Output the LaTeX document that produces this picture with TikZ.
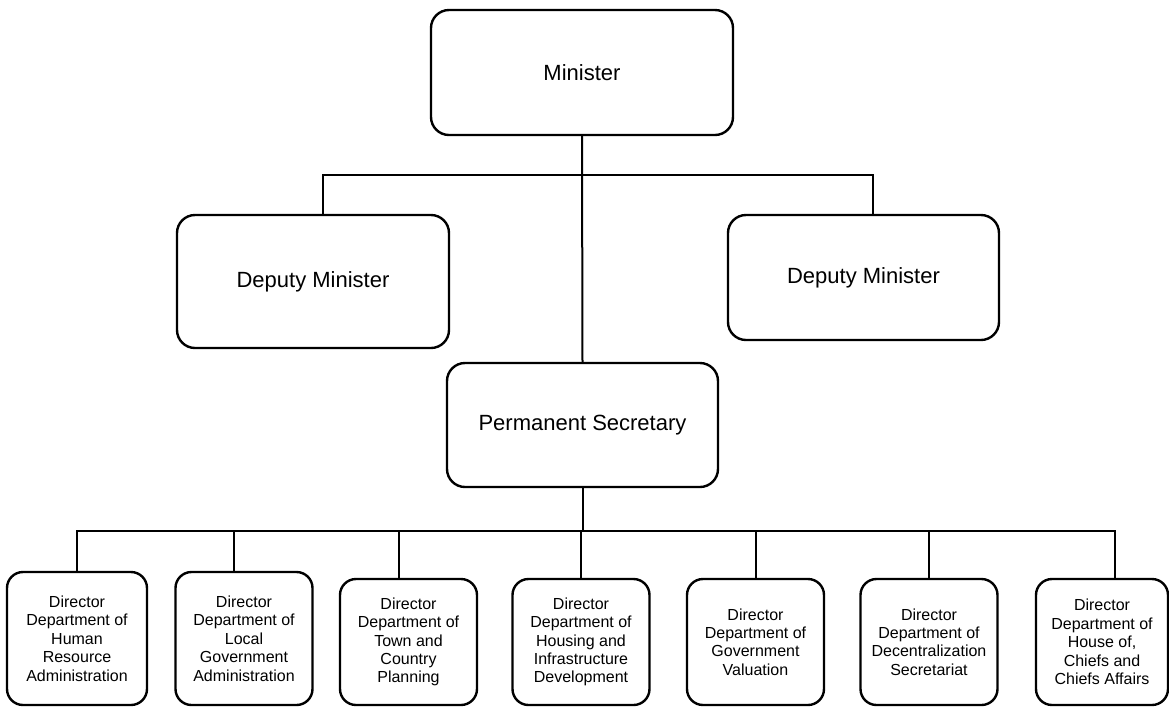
\documentclass[tikz,border=0pt]{standalone}
\usepackage{fontspec}
\setmainfont{Liberation Sans}
\begin{document}
\begin{tikzpicture}[x=0.5pt,y=-0.5pt,
	office/.style={draw,line width=1.2pt,rounded corners=9pt,align=center,font=\fontsize{11}{13}\selectfont},
	dept/.style={draw,line width=1.2pt,rounded corners=8pt,align=center,inner sep=1pt,minimum width=68.5pt,minimum height=63pt,font=\fontsize{8}{9.2}\selectfont},
	link/.style={line width=1pt}]
	\useasboundingbox (0,0) rectangle (1169,708);
	\node[office,minimum width=151pt,minimum height=62.5pt] (min) at (582,72.5) {Minister};
	\node[office,minimum width=136pt,minimum height=66.5pt] (dep1) at (313,281.5) {Deputy Minister};
	\node[office,minimum width=135.5pt,minimum height=62.5pt] (dep2) at (863.5,277.5) {Deputy Minister};
	\node[office,minimum width=135.5pt,minimum height=62pt] (ps) at (582.5,425) {Permanent Secretary};
	\node[dept,minimum width=70pt,minimum height=66.5pt] (d1) at (77,638.5) {Director\\Department of\\Human\\Resource\\Administration};
	\node[dept,minimum height=66.5pt] (d2) at (244,638.5) {Director\\Department of\\Local\\Government\\Administration};
	\node[dept] (d3) at (408.5,642) {Director\\Department of\\Town and\\Country\\Planning};
	\node[dept] (d4) at (581,642) {Director\\Department of\\Housing and\\Infrastructure\\Development};
	\node[dept] (d5) at (755.5,642) {Director\\Department of\\Government\\Valuation};
	\node[dept] (d6) at (929,642) {Director\\Department of\\Decentralization\\Secretariat};
	\node[dept,minimum width=66pt] (d7) at (1102,642) {Director\\Department of\\House of,\\Chiefs and\\Chiefs Affairs};
	% upper links
	\draw[link] (min.south) -- (ps.north);
	\draw[link] ([xshift=5pt]dep1.north) -- ++(0,-39) -| ([xshift=4.75pt]dep2.north);
	% lower links
	\coordinate (bus) at (582.5,531);
	\draw[link] (ps.south) -- (bus);
	\draw[link] (d1.north) |- (bus) -| ([xshift=6.5pt]d7.north);
	\draw[link] ([xshift=-5pt]d2.north) -- ++(0,-41);
	\draw[link] ([xshift=-5pt]d3.north) -- ++(0,-48);
	\draw[link] (d4.north) -- ++(0,-48);
	\draw[link] (d5.north) -- ++(0,-48);
	\draw[link] (d6.north) -- ++(0,-48);
\end{tikzpicture}
\end{document}
